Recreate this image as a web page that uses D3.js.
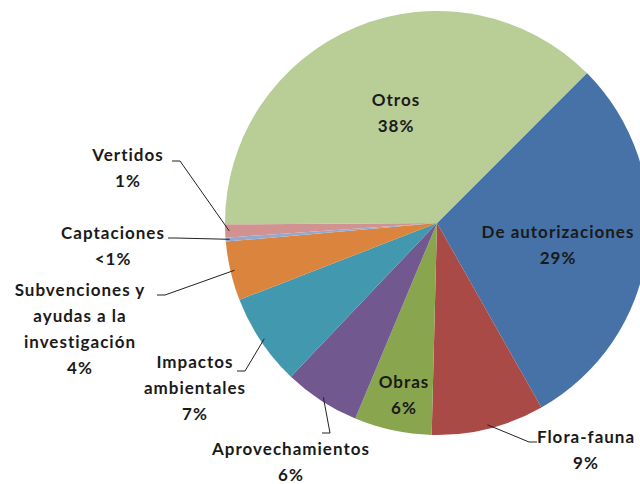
<!DOCTYPE html>
<html>
<head>
<meta charset="utf-8">
<script src="https://cdn.jsdelivr.net/npm/d3@7"></script>
<style>
  body { margin: 0; background: #fff; }
  svg text { font-family: Lato, "Noto Sans", sans-serif; font-weight: bold; font-size: 17px; letter-spacing: 1px; fill: #1a1a1a; }
</style>
</head>
<body>
<div id="pie-container"></div>
<script>
// slices in drawing order, clockwise from the upper right
const categories = ["De autorizaciones", "Flora-fauna", "Obras", "Aprovechamientos",
  "Impactos ambientales", "Subvenciones y ayudas a la investigación", "Captaciones", "Vertidos", "Otros"];
const values = [29.3, 8.6, 5.9, 5.8, 7.0, 4.5, 0.3, 1.0, 37.6];
const pctLabels = ["29%", "9%", "6%", "6%", "7%", "4%", "<1%", "1%", "38%"];
const colors = ["#4672a8", "#a94a47", "#89a54e", "#71588f", "#4198af", "#db843d", "#93a9cf", "#d19392", "#b9cd96"];

// how each label is broken and placed (layout only)
const labelLines = [
  ["De autorizaciones"], ["Flora-fauna"], ["Obras"], ["Aprovechamientos"],
  ["Impactos", "ambientales"], ["Subvenciones y", "ayudas a la", "investigación"],
  ["Captaciones"], ["Vertidos"], ["Otros"]
];
const labelAt = [
  {x: 558, y: 232}, {x: 586, y: 437, lx: 537, ly: 442}, {x: 404, y: 382},
  {x: 291, y: 449, lx: 322, ly: 433}, {x: 195, y: 362, lx: 237, ly: 371},
  {x: 80, y: 290, lx: 157, ly: 295}, {x: 113, y: 233, lx: 168, ly: 238},
  {x: 128, y: 155, lx: 172, ly: 161}, {x: 396, y: 100}
];

const width = 640, height = 484;
const cx = 437, cy = 223, radius = 212;
const lineH = 26;

const svg = d3.select("#pie-container").append("svg")
  .attr("width", width).attr("height", height);

const g = svg.append("g").attr("transform", `translate(${cx},${cy})`);

const pie = d3.pie().sort(null).value(d => d)
  .startAngle(Math.PI / 4).endAngle(Math.PI / 4 + 2 * Math.PI);
const arcs = pie(values);

const arc = d3.arc().innerRadius(0).outerRadius(radius);

g.selectAll("path").data(arcs).enter().append("path")
  .attr("d", arc)
  .attr("fill", (d, i) => colors[i]);

// leader lines for outside labels
const edge = d3.arc().innerRadius(radius - 4).outerRadius(radius - 4);
arcs.forEach((d, i) => {
  const p = labelAt[i];
  if (p.lx === undefined) return;
  const [ex, ey] = edge.centroid(d);
  const dir = p.lx < cx ? 1 : -1;
  const pts = [[p.lx, p.ly], [p.lx + dir * 8, p.ly], [ex + cx, ey + cy]];
  svg.append("path")
    .attr("d", d3.line()(pts))
    .attr("fill", "none").attr("stroke", "#222").attr("stroke-width", 1);
});

// labels
arcs.forEach((d, i) => {
  const p = labelAt[i];
  const lines = labelLines[i].concat([pctLabels[i]]);
  const t = svg.append("text").attr("text-anchor", "middle");
  lines.forEach((s, j) => {
    t.append("tspan").attr("x", p.x).attr("y", p.y + j * lineH + 6).text(s);
  });
});
</script>
</body>
</html>
